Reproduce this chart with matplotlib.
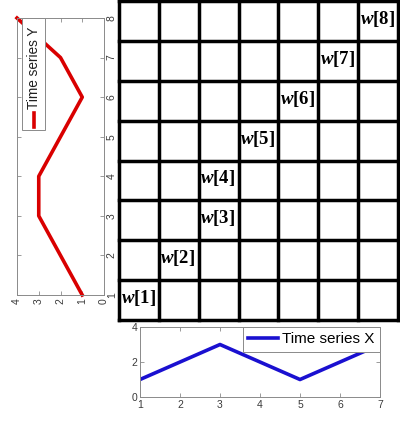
import matplotlib
matplotlib.use("Agg")
import matplotlib.pyplot as plt
from matplotlib.patches import Rectangle
from matplotlib.lines import Line2D

# series values
series_x = [1, 2, 3, 2, 1, 2, 3]
series_y = [1, 2, 3, 3, 2, 1, 2, 4]
# warping path: (index in X, index in Y)
path_x = [1, 2, 3, 3, 4, 5, 6, 7]
path_y = [1, 2, 3, 4, 5, 6, 7, 8]

plt.rcParams['font.family'] = ['Liberation Sans', 'DejaVu Sans']
plt.rcParams['mathtext.fontset'] = 'custom'
plt.rcParams['mathtext.it'] = 'Liberation Serif:italic:bold'
plt.rcParams['mathtext.rm'] = 'Liberation Serif:bold'

red = '#d90000'
blue = '#1a10d0'
spine_col = '#8a8a8a'
tick_col = '#3a3a3a'

fig = plt.figure(figsize=(4, 4.22), dpi=100)

# ---- cost matrix grid ----
n_x = len(series_x)
n_y = len(series_y)
ax_g = fig.add_axes([0.2975, 0.2417, 0.6975, 0.7559])
ax_g.set_xlim(0, n_x)
ax_g.set_ylim(0, n_y)
for i in range(n_x + 1):
    ax_g.plot([i, i], [0, n_y], color='black', lw=2.5, clip_on=False,
              solid_capstyle='projecting')
for j in range(n_y + 1):
    ax_g.plot([0, n_x], [j, j], color='black', lw=2.5, clip_on=False,
              solid_capstyle='projecting')
for k, (px, py) in enumerate(zip(path_x, path_y)):
    ax_g.text(px - 1 + 0.04, py - 0.45, r'$w$[%d]' % (k + 1),
              family='Liberation Serif', weight='bold', fontsize=13.5,
              ha='left', va='center')
ax_g.axis('off')

# ---- time series Y (rotated, left) ----
ax_l = fig.add_axes([0.0425, 0.3009, 0.2175, 0.6564])
ax_l.plot(series_y, range(1, n_y + 1), color=red, lw=2.6, clip_on=False)
ax_l.set_xlim(4, 0)
ax_l.set_ylim(1, n_y)
ax_l.set_xticks(range(0, 5))
ax_l.set_yticks(range(1, n_y + 1))
ax_l.yaxis.tick_right()
ax_l.tick_params(axis='both', direction='in', length=3, width=0.6,
                 color=spine_col, labelsize=7.5, labelcolor=tick_col,
                 top=True, bottom=True, left=True, right=True, pad=2)
for lab in ax_l.get_xticklabels() + ax_l.get_yticklabels():
    lab.set_rotation(90)
for lab in ax_l.get_yticklabels():
    lab.set_va('center')
for s in ax_l.spines.values():
    s.set_color(spine_col)
    s.set_linewidth(0.7)

# legend drawn by hand so it can be rotated
ax_l.add_patch(Rectangle((0.057, 0.596), 0.265, 0.404, transform=ax_l.transAxes,
                         facecolor='white', edgecolor=spine_col, lw=0.7,
                         zorder=5, clip_on=False))
ax_l.add_line(Line2D([0.19, 0.19], [0.606, 0.657], transform=ax_l.transAxes,
                     color=red, lw=2.6, zorder=6))
ax_l.text(0.19, 0.672, 'Time series Y', transform=ax_l.transAxes, rotation=90,
          ha='center', va='bottom', fontsize=9.8, color='#202020', zorder=6)

# ---- time series X (bottom) ----
ax_b = fig.add_axes([0.35, 0.0592, 0.6, 0.1659])
ax_b.plot(range(1, n_x + 1), series_x, color=blue, lw=2.6, label='Time series X')
ax_b.set_xlim(1, n_x)
ax_b.set_ylim(0, 4)
ax_b.set_xticks(range(1, n_x + 1))
ax_b.set_yticks([0, 2, 4])
ax_b.tick_params(axis='both', direction='in', length=3, width=0.6,
                 color=spine_col, labelsize=7.5, labelcolor=tick_col,
                 top=True, right=True, pad=2)
for s in ax_b.spines.values():
    s.set_color(spine_col)
    s.set_linewidth(0.7)
leg = ax_b.legend(loc='upper right', fontsize=11, frameon=True, fancybox=False,
                  borderaxespad=0, handlelength=2.0, handletextpad=0.25,
                  borderpad=0.35, framealpha=1)
leg.get_frame().set_edgecolor(spine_col)
leg.get_frame().set_linewidth(0.7)

fig.savefig('out.png', dpi=100, facecolor='white')
